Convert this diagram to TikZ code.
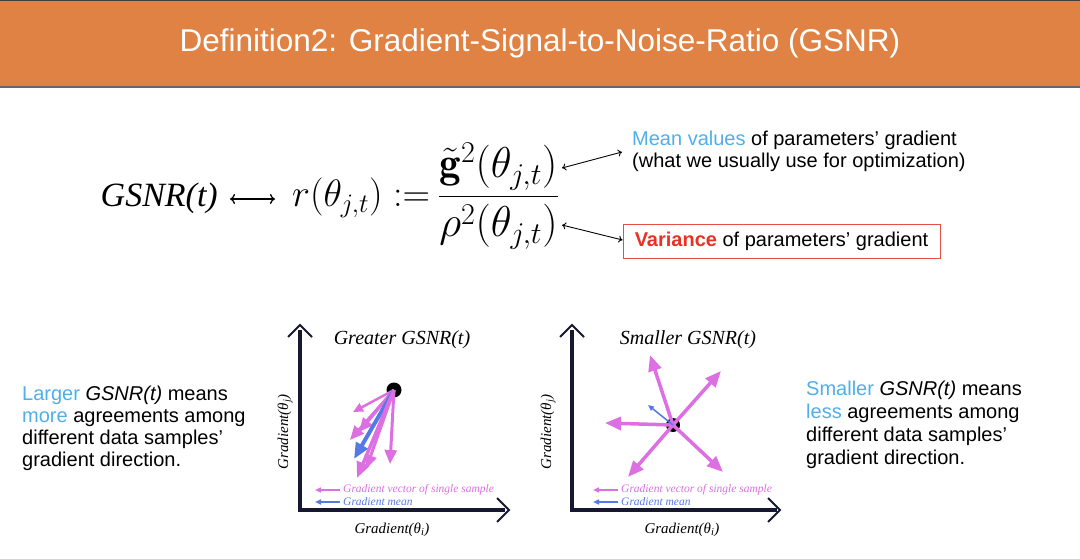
\RequirePackage{fix-cm}
\documentclass[tikz,border=0pt]{standalone}
\usepackage{amsmath}
\usepackage{graphicx}
\usepackage{fontspec}
\newfontfamily\arial{Liberation Sans}
\newfontfamily\tnr{Liberation Serif}
\usetikzlibrary{arrows.meta}
\definecolor{hdr}{RGB}{224,130,68}
\definecolor{lblue}{RGB}{80,175,235}
\definecolor{vred}{RGB}{232,50,38}
\definecolor{boxred}{RGB}{228,80,70}
\definecolor{pinkv}{RGB}{220,112,226}
\definecolor{bluev}{RGB}{85,122,232}
\definecolor{axisc}{RGB}{22,24,48}
\tikzset{
  body/.style={font=\arial\fontsize{20}{22.5}\selectfont, inner sep=0, align=left, anchor=base west},
  mathtxt/.style={font=\fontsize{36}{42}\selectfont, inner sep=0},
  lrarrow/.style={line width=1.3pt, {To[length=5pt,width=10pt]}-{To[length=5pt,width=10pt]}},
  sidearrow/.style={line width=0.9pt, {To[length=4pt,width=7pt]}-{To[length=4pt,width=7pt]}},
  axisline/.style={axisc, line width=3.5pt, line join=miter},
  chev/.style={axisc, line width=2pt, line join=miter},
  ptitle/.style={font=\tnr\itshape\fontsize{20}{24}\selectfont, inner sep=0, anchor=base},
  alabel/.style={font=\tnr\itshape\fontsize{15}{18}\selectfont, inner sep=0},
  legtext/.style={font=\tnr\itshape\fontsize{11.5}{13}\selectfont, inner sep=0, anchor=west},
  dot/.style={circle, fill=black, inner sep=0, minimum size=15pt},
  pvec/.style={pinkv, line width=3pt, -{Triangle[length=14pt,width=12pt]}},
  pvecthin/.style={pinkv, line width=2.5pt, -{Triangle[length=10pt,width=9pt]}},
  pvecthick/.style={pinkv, line width=3.5pt, -{Triangle[length=16pt,width=13pt]}},
  bvec/.style={bluev, line width=4pt, -{Triangle[length=16pt,width=13pt]}},
  bvecthin/.style={bluev, line width=1.5pt, -{Triangle[length=6pt,width=5pt]}},
  plegend/.style={pinkv, line width=2pt, -{Triangle[length=6pt,width=5pt]}},
  blegend/.style={bluev, line width=1.6pt, -{Triangle[length=6pt,width=5pt]}},
}
\begin{document}
\begin{tikzpicture}[x=1pt,y=-1pt]
\useasboundingbox (0,0) rectangle (1080,559);
\fill[white] (0,0) rectangle (1080,559);
% header
\fill[hdr] (0,0) rectangle (1080,87);
\draw[black!75, line width=1pt] (0,0.5) -- (1080,0.5);
\draw[black!60, line width=1.2pt] (0,87) -- (1080,87);
\node[font=\arial\fontsize{31.5}{36}\selectfont, text=white, inner sep=0, anchor=base] (title) at (540,52) {Definition2: Gradient-Signal-to-Noise-Ratio (GSNR)};

% formula
\node[font=\tnr\itshape\fontsize{34}{40}\selectfont, inner sep=0, anchor=base east] (gsnr) at (218,207) {GSNR(t)};
\node[mathtxt, anchor=base west] (req) at (292,207) {\resizebox{138pt}{!}{$r(\theta_{j,t}) :=$}};
\node[mathtxt, anchor=base] (frac) at (498.5,207)
  {\resizebox{121pt}{!}{$\dfrac{\tilde{\mathbf{g}}^2(\theta_{j,t})}{\rho^2(\theta_{j,t})}$}};
\draw[lrarrow] ([xshift=12pt,yshift=8pt]gsnr.base east) -- ([xshift=-17pt,yshift=8pt]req.base west);

% side labels
\node[body, font=\arial\fontsize{20}{23}\selectfont] (mean) at (632,168) {\textcolor{lblue}{Mean values} of parameters’ gradient\\(what we usually use for optimization)};
\node[draw=boxred, line width=1pt, inner sep=0, minimum width=317pt, minimum height=33pt, font=\arial\fontsize{20}{22.5}\selectfont] (var) at (781.5,241.5)
  {\textcolor{vred}{\bfseries Variance} of parameters’ gradient};
\coordinate (numR) at (562,168);
\coordinate (denR) at (562,225);
\coordinate (meanL) at (622,152);
\draw[sidearrow] (numR) -- (meanL);
\draw[sidearrow] (denR) -- (var.west |- 0,240);

% descriptions
\node[body, font=\arial\fontsize{20}{22}\selectfont] (ltxt) at (22,466) {\textcolor{lblue}{Larger} \textit{GSNR(t)} means\\\textcolor{lblue}{more} agreements among\\different data samples’\\gradient direction.};
\node[body, font=\arial\fontsize{20}{23}\selectfont] (rtxt) at (806,464) {\textcolor{lblue}{Smaller} \textit{GSNR(t)} means\\\textcolor{lblue}{less} agreements among\\different data samples’\\gradient direction.};

% ---------- left plot ----------
\draw[axisline] (300,330) -- (300,510) -- (505,510);
\draw[chev] (288,337) -- (300,325) -- (312,337);
\draw[chev] (497,498) -- (509,510) -- (497,522);
\node[ptitle] (t1) at (402,344) {Greater GSNR(t)};
\node[alabel, rotate=90] (y1) at (285,432) {Gradient(θ\textsubscript{j})};
\node[alabel] (x1) at (392,530) {Gradient(θ\textsubscript{i})};
\node[dot] (o1) at (394,390) {};
\coordinate (a1) at (353,412);
\coordinate (a2) at (350,440);
\coordinate (a3) at (359,432);
\coordinate (a4) at (357,478);
\coordinate (a5) at (366,469);
\coordinate (a6) at (390,464);
\coordinate (m1) at (354,459);
\draw[pvecthin] (o1.center) -- (a1);
\draw[pvec] (o1.center) -- (a2);
\draw[pvec] (o1.center) -- (a3);
\draw[pvec] (o1.center) -- (a6);
\draw[bvec] (o1.center) -- (m1);
\draw[pvecthick] (o1.center) -- (a4);
\draw[pvec] (o1.center) -- (a5);
% legend
\coordinate (lp1) at (340,490); \coordinate (lp2) at (315,490);
\coordinate (lb1) at (340,502); \coordinate (lb2) at (315,502);
\draw[plegend] (lp1) -- (lp2);
\draw[blegend] (lb1) -- (lb2);
\node[legtext, text=pinkv] (lt1) at (343,490) {Gradient vector of single sample};
\node[legtext, text=bluev] (lt2) at (343,502) {Gradient mean};

% ---------- right plot ----------
\draw[axisline] (572,330) -- (572,510) -- (777,510);
\draw[chev] (560,337) -- (572,325) -- (584,337);
\draw[chev] (768,498) -- (780,510) -- (768,522);
\node[ptitle] (t2) at (688,344) {Smaller GSNR(t)};
\node[alabel, rotate=90] (y2) at (548,432) {Gradient(θ\textsubscript{j})};
\node[alabel] (x2) at (682,530) {Gradient(θ\textsubscript{i})};
\node[dot, minimum size=14pt] (o2) at (673,425) {};
\coordinate (b1) at (650,355);
\coordinate (b2) at (721,371);
\coordinate (b3) at (605,423);
\coordinate (b4) at (628,477);
\coordinate (b5) at (723,472);
\coordinate (m2) at (648,405);
\draw[pvecthick] (o2.center) -- (b1);
\draw[pvecthick] (o2.center) -- (b2);
\draw[pvecthick] (o2.center) -- (b3);
\draw[pvecthick] (o2.center) -- (b4);
\draw[pvecthick] (o2.center) -- (b5);
\draw[bvecthin] (o2.center) -- (m2);
% legend
\coordinate (rp1) at (618,490); \coordinate (rp2) at (593,490);
\coordinate (rb1) at (618,502); \coordinate (rb2) at (593,502);
\draw[plegend] (rp1) -- (rp2);
\draw[blegend] (rb1) -- (rb2);
\node[legtext, text=pinkv] (lt3) at (621,490) {Gradient vector of single sample};
\node[legtext, text=bluev] (lt4) at (621,502) {Gradient mean};
\end{tikzpicture}
\end{document}
